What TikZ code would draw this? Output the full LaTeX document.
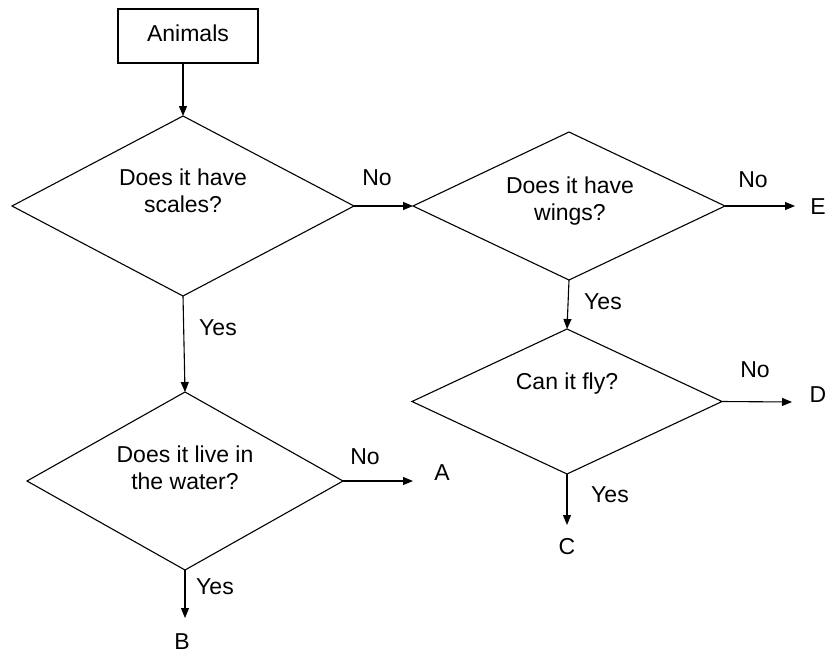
\documentclass[tikz,border=0pt]{standalone}
\usepackage{fontspec}
\setmainfont{Liberation Sans}
\usetikzlibrary{shapes.geometric,arrows.meta}
\begin{document}
\begin{tikzpicture}[x=1pt,y=-1pt,
  txt/.style={font=\fontsize{23}{26.5}\selectfont, inner sep=0pt, align=center},
  dia/.style n args={2}{draw, diamond, minimum width=#1, minimum height=#2, inner sep=0pt, outer sep=0pt, line width=1.1pt},
  boxst/.style={draw, rectangle, minimum width=140pt, minimum height=54pt, inner sep=0pt, outer sep=0pt, line width=1.1pt},
  arr/.style={line width=1.1pt, -{Triangle[length=10pt,width=8pt]}}]
\useasboundingbox (0,0) rectangle (827,654);

% start box
\node[boxst] (box) at (188,36) {};
\node[txt] (tbox) at (188,33) {Animals};

% diamonds
\node[dia={342pt}{180pt}] (d1) at (183,206) {};
\node[txt] (t1) at (183,191) {Does it have\\scales?};

\node[dia={312pt}{148pt}] (d2) at (569,206) {};
\node[txt] (t2) at (570,201) {Does it have\\wings?};

\node[dia={310pt}{145pt}] (d3) at (567,401.5) {};
\node[txt] (t3) at (567,384) {Can it fly?};

\node[dia={316pt}{178pt}] (d4) at (185,481) {};
\node[txt] (t4) at (185,468) {Does it live in\\the water?};

% end letters
\node[txt] (A) at (442,473) {A};
\node[txt] (B) at (182,642) {B};
\node[txt] (C) at (567,547) {C};
\node[txt] (D) at (818,395) {D};
\node[txt] (E) at (818,207) {E};

% free ends of arrows
\coordinate (eA) at (413,481);
\coordinate (eB) at (185,618);
\coordinate (eC) at (567,525);
\coordinate (eD) at (792,402);
\coordinate (eE) at (795,206);

% connectors
\draw[arr] (box.south -| d1.north) -- (d1.north);
\draw[arr] (d1.east) -- (d2.west);
\draw[arr] (d2.east) -- (eE);
\draw[arr] (d2.south) -- (d3.north);
\draw[arr] (d3.east) -- (eD);
\draw[arr] (d3.south) -- (eC);
\draw[arr] (d1.south) -- (d4.north);
\draw[arr] (d4.east) -- (eA);
\draw[arr] (d4.south) -- (eB);

% branch labels
\node[txt] (n1) at (377,178) {No};
\node[txt] (n2) at (753,180) {No};
\node[txt] (n3) at (755,370) {No};
\node[txt] (n4) at (365,457) {No};
\node[txt] (y1) at (218,328) {Yes};
\node[txt] (y2) at (603,302) {Yes};
\node[txt] (y3) at (610,495) {Yes};
\node[txt] (y4) at (215,587) {Yes};
\end{tikzpicture}
\end{document}
